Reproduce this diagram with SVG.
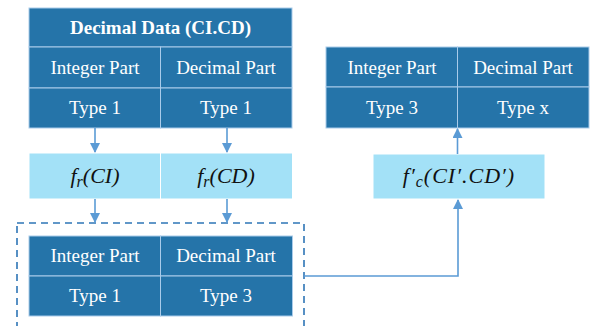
<svg xmlns="http://www.w3.org/2000/svg" width="590" height="326" viewBox="0 0 590 326" font-family="Times New Roman, Liberation Serif, Tinos, serif">
<style>
.dk{fill:#2574A9;stroke:#A9CBEA;stroke-width:1}
.lt{fill:#A3E1F7;stroke:#FFFFFF;stroke-width:1}
.t{font-size:19px;fill:#FFFFFF;text-anchor:middle}
.b{font-weight:bold}
.m{font-style:italic;font-size:22px;fill:#111111;text-anchor:middle}
.c{fill:none;stroke:#5B9BD5;stroke-width:1.6}
</style>
<defs>
<marker id="ah" markerWidth="10" markerHeight="10" refX="9" refY="5" orient="auto" markerUnits="userSpaceOnUse">
<path d="M0,0 L10,5 L0,10 Z" fill="#5B9BD5"/>
</marker>
</defs>
<rect width="590" height="326" fill="#FFFFFF"/>
<g id="input-table">
<rect class="dk" x="29" y="8" width="263" height="39"/>
<rect class="dk" x="29" y="47" width="131.5" height="41"/>
<rect class="dk" x="160.5" y="47" width="131.5" height="41"/>
<rect class="dk" x="29" y="88" width="131.5" height="40"/>
<rect class="dk" x="160.5" y="88" width="131.5" height="40"/>
<text class="t b" x="160.5" y="34">Decimal Data (CI.CD)</text>
<text class="t" x="95" y="74">Integer Part</text>
<text class="t" x="226" y="74">Decimal Part</text>
<text class="t" x="95" y="114">Type 1</text>
<text class="t" x="226" y="114">Type 1</text>
</g>
<g id="fr-functions">
<rect class="lt" x="29" y="153" width="131.5" height="46"/>
<rect class="lt" x="160.5" y="153" width="132" height="46"/>
<text class="m" x="95" y="183">f<tspan font-size="16" dy="4">r</tspan><tspan dy="-4">(CI)</tspan></text>
<text class="m" x="226" y="183">f<tspan font-size="16" dy="4">r</tspan><tspan dy="-4">(CD)</tspan></text>
</g>
<g id="intermediate">
<rect x="17" y="223" width="287" height="120" fill="none" stroke="#2E75B6" stroke-width="1.6" stroke-dasharray="7,5"/>
<rect class="dk" x="29" y="236" width="131.5" height="40"/>
<rect class="dk" x="160.5" y="236" width="132" height="40"/>
<rect class="dk" x="29" y="276" width="131.5" height="40"/>
<rect class="dk" x="160.5" y="276" width="132" height="40"/>
<text class="t" x="95" y="262">Integer Part</text>
<text class="t" x="226" y="262">Decimal Part</text>
<text class="t" x="95" y="302">Type 1</text>
<text class="t" x="226" y="302">Type 3</text>
</g>
<g id="fc-function">
<rect class="lt" x="373" y="154" width="172" height="45"/>
<text class="m" x="459" y="183" letter-spacing="1">f′<tspan font-size="16" dy="4">c</tspan><tspan dy="-4">(CI′.CD′)</tspan></text>
</g>
<g id="output-table">
<rect class="dk" x="326" y="47" width="131.5" height="40"/>
<rect class="dk" x="457.5" y="47" width="131.5" height="40"/>
<rect class="dk" x="326" y="87" width="131.5" height="41"/>
<rect class="dk" x="457.5" y="87" width="131.5" height="41"/>
<text class="t" x="392" y="74">Integer Part</text>
<text class="t" x="523" y="74">Decimal Part</text>
<text class="t" x="392" y="114">Type 3</text>
<text class="t" x="523" y="114">Type x</text>
</g>
<g id="connectors">
<line class="c" x1="95" y1="128" x2="95" y2="152" marker-end="url(#ah)"/>
<line class="c" x1="227" y1="128" x2="227" y2="152" marker-end="url(#ah)"/>
<line class="c" x1="95" y1="199" x2="95" y2="222" marker-end="url(#ah)"/>
<line class="c" x1="227" y1="199" x2="227" y2="222" marker-end="url(#ah)"/>
<path class="c" d="M304,276 H458 V200" marker-end="url(#ah)"/>
<line class="c" x1="457.5" y1="154" x2="457.5" y2="129" marker-end="url(#ah)"/>
</g>
</svg>
